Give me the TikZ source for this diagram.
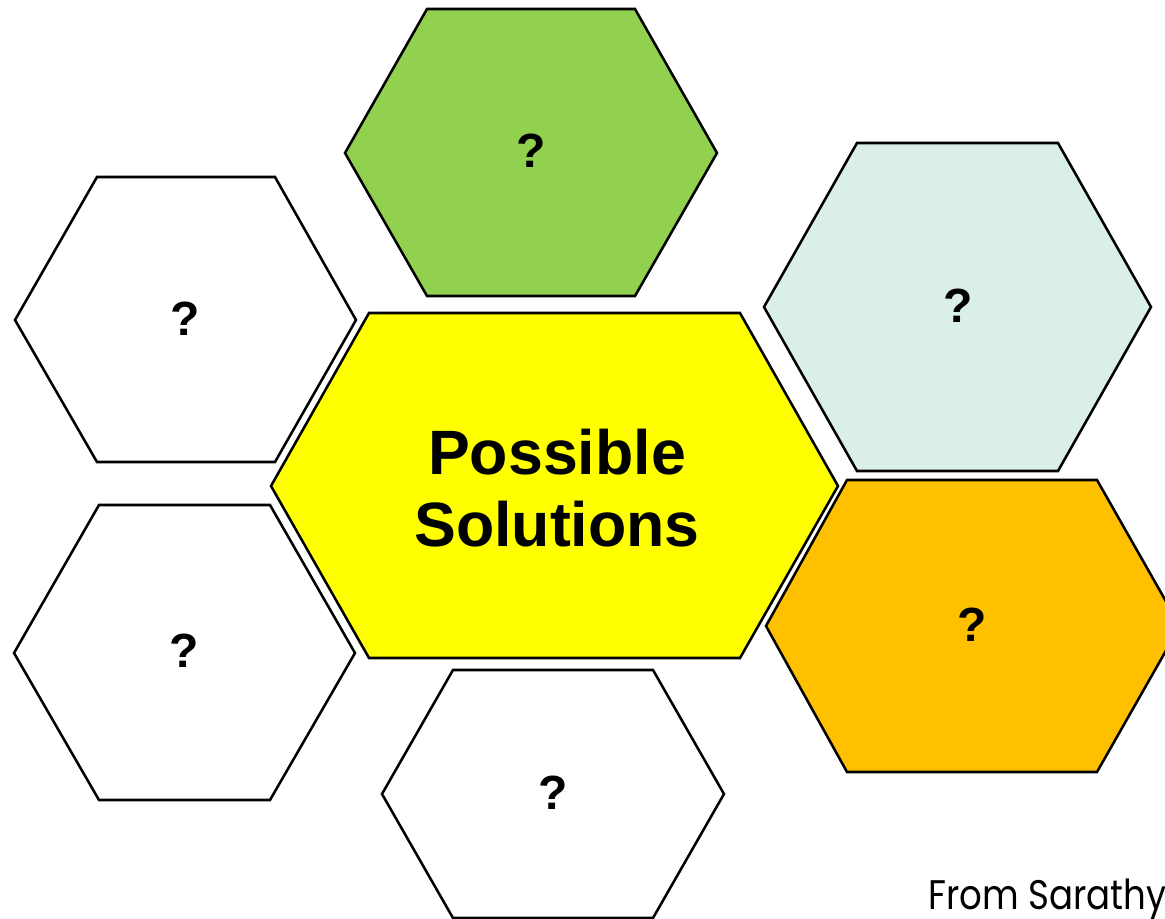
\documentclass[tikz,border=0pt]{standalone}
\usepackage{fontspec}
\setmainfont{Liberation Sans}
\newfontfamily\fromfont{Poppins}
\definecolor{hgreen}{HTML}{92D050}
\definecolor{hlight}{HTML}{DAEFE9}
\definecolor{horange}{HTML}{FFC000}
\definecolor{hyellow}{HTML}{FFFF00}
\tikzset{
  hexbox/.style={draw=black, line width=1.9pt, line join=miter},
  qmark/.style={font=\fontsize{36}{40}\selectfont\bfseries},
}
% #1 fill, #2 xleft, #3 xtop-left, #4 xtop-right, #5 xright, #6 ytop, #7 ymid, #8 ybot
\newcommand{\hexshape}[8]{%
  \filldraw[hexbox, fill=#1] (#2,#7) -- (#3,#6) -- (#4,#6) -- (#5,#7) -- (#4,#8) -- (#3,#8) -- cycle;}
\begin{document}
\begin{tikzpicture}[x=0.75pt,y=-0.75pt]
\useasboundingbox (0,0) rectangle (1165,919);
\clip (0,0) rectangle (1165,919);
\fill[white] (0,0) rectangle (1165,919);
% hexagons
\hexshape{hgreen}{345}{427}{635}{717}{9}{153}{296}
\hexshape{white}{15}{97}{275}{356}{177}{320}{462}
\hexshape{hlight}{764}{857}{1058}{1151}{143}{307}{471}
\hexshape{hyellow}{271}{369}{740}{838}{313}{486}{658}
\hexshape{white}{14}{99}{270}{355}{505}{653}{800}
\hexshape{horange}{766}{847}{1097}{1180}{480}{626}{772}
\hexshape{white}{382}{453}{653}{724}{670}{794}{918}
% labels
\node[qmark] (q1) at (531,151) {?};
\node[qmark] (q2) at (185,319) {?};
\node[qmark] (q3) at (958,306) {?};
\node[qmark] (q4) at (184,651) {?};
\node[qmark] (q5) at (972,625) {?};
\node[qmark] (q6) at (553,793) {?};
\node[font=\fontsize{47}{54}\selectfont\bfseries, align=center] (main) at (557,488) {Possible\\Solutions};
\node[font=\fromfont\fontsize{31}{36}\selectfont, anchor=base west, inner sep=0pt] (src) at (928,909) {\scalebox{0.86}[1]{From Sarathy}};
\end{tikzpicture}
\end{document}
